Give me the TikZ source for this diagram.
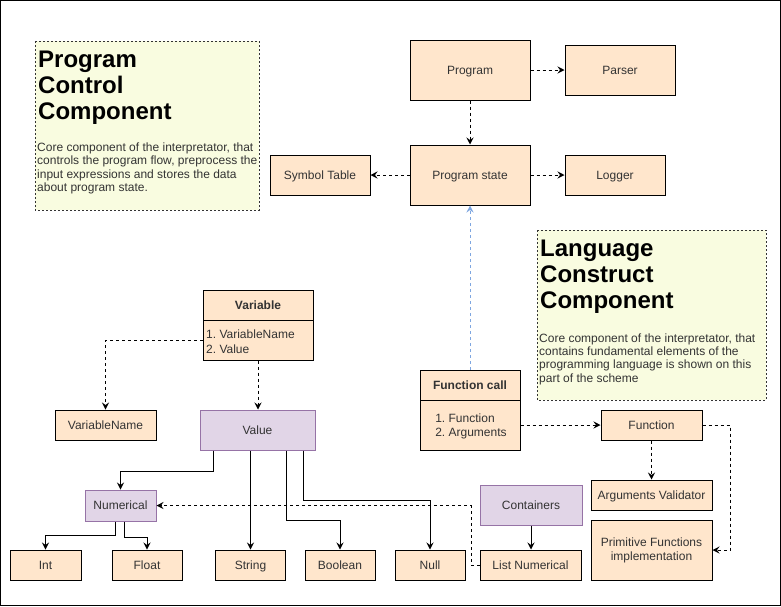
\documentclass[tikz,border=0pt]{standalone}
\usepackage{fontspec}
\setmainfont{Liberation Sans}
\usetikzlibrary{arrows.meta,calc}
\definecolor{boxfill}{HTML}{FFE6CC}
\definecolor{purfill}{HTML}{E1D5E7}
\definecolor{purline}{HTML}{9673A6}
\definecolor{notefill}{HTML}{F9FCE0}
\definecolor{notetxt}{HTML}{333333}
\definecolor{bluearrow}{HTML}{7EA6E0}
\frenchspacing
\begin{document}
\begin{tikzpicture}[x=1pt,y=-1pt,
 every node/.style={font=\fontsize{12}{14.5}\selectfont, text=notetxt},
 obox/.style={draw=black, fill=boxfill, line width=1pt, inner sep=0pt, text height=10.5pt, text depth=2pt},
 pbox/.style={draw=purline, fill=purfill, line width=1pt, inner sep=0pt, text height=10.5pt, text depth=2pt},
 notebox/.style={draw=notetxt, fill=notefill, dash pattern=on 2pt off 2pt, line width=1pt},
 tip/.style={-{Stealth[length=7pt,width=7pt,inset=2.5pt]}},
 dashline/.style={dash pattern=on 3pt off 3pt, line width=1pt, tip},
 solidline/.style={line width=1pt, tip},
 ttl/.style={anchor=base west, inner sep=0pt, font=\fontsize{24}{26}\selectfont\bfseries, text=black},
 bodyt/.style={anchor=base west, inner sep=0pt, font=\fontsize{12}{13.5}\selectfont, text=notetxt}
]
\useasboundingbox (0,0) rectangle (781,606);
\draw[line width=1pt] (0.5,0.5) rectangle (780.5,605.5);

% notes
\draw[notebox] (35,41) rectangle (259,210);
\node[ttl] (pct1) at (38,67) {Program};
\node[ttl] (pct2) at (38,93) {Control};
\node[ttl] (pct3) at (38,119) {Component};
\node[bodyt] (pcb1) at (37,151) {Core component of the interpretator, that};
\node[bodyt] (pcb2) at (37,164.5) {controls the program flow, preprocess the};
\node[bodyt] (pcb3) at (37,178) {input expressions and stores the data};
\node[bodyt] (pcb4) at (37,191.5) {about program state.};

\draw[notebox] (537,230) rectangle (766,400);
\node[ttl] (lct1) at (540,256) {Language};
\node[ttl] (lct2) at (540,282) {Construct};
\node[ttl] (lct3) at (540,308) {Component};
\node[bodyt] (lcb1) at (539,342) {Core component of the interpretator, that};
\node[bodyt] (lcb2) at (539,355.3) {contains fundamental elements of the};
\node[bodyt] (lcb3) at (539,368.6) {programming language is shown on this};
\node[bodyt] (lcb4) at (539,382) {part of the scheme};

% boxes
\node[obox, minimum width=120, minimum height=60] (program) at (470,70) {Program};
\node[obox, minimum width=110, minimum height=50] (parser) at (620,70) {Parser};
\node[obox, minimum width=120, minimum height=60] (state) at (470,175) {Program state};
\node[obox, minimum width=100, minimum height=40] (symtab) at (320,175) {Symbol Table};
\node[obox, minimum width=100, minimum height=40] (logger) at (615,175) {Logger};

\node[obox, minimum width=100, minimum height=30, font=\fontsize{12}{14.5}\selectfont\bfseries] (fcallh) at (470,385) {Function call};
\node[obox, minimum width=100, minimum height=50] (fcallb) at (470,425) {};
\node[align=left, inner sep=0pt] (fcallt) at (471,426.5) {1. Function\\2. Arguments};

\node[obox, minimum width=101, minimum height=30] (func) at (651.5,425) {Function};
\node[obox, minimum width=121, minimum height=30] (argval) at (651.5,495) {Arguments Validator};
\node[draw=black, fill=boxfill, line width=1pt, inner sep=0pt, minimum width=121, minimum height=60, align=center, font=\fontsize{12}{14}\selectfont] (prim) at (651.5,550) {Primitive Functions\\implementation};

\node[pbox, minimum width=102, minimum height=40] (containers) at (531,505) {Containers};
\node[obox, minimum width=101, minimum height=30] (listnum) at (530.5,565) {List Numerical};
\node[obox, minimum width=70, minimum height=30] (null) at (430,565) {Null};
\node[obox, minimum width=70, minimum height=30] (boolean) at (340,565) {Boolean};
\node[obox, minimum width=70, minimum height=30] (string) at (250.5,565) {String};
\node[obox, minimum width=70, minimum height=30] (float) at (147,565) {Float};
\node[obox, minimum width=71, minimum height=30] (int) at (45.5,565) {Int};
\node[pbox, minimum width=71, minimum height=31] (numerical) at (120.5,505.5) {Numerical};
\node[pbox, minimum width=115, minimum height=40] (value) at (257.5,430) {Value};
\node[obox, minimum width=101, minimum height=30] (varname) at (105.5,425) {VariableName};

\node[obox, minimum width=110, minimum height=30, font=\fontsize{12}{14.5}\selectfont\bfseries] (varh) at (258,305) {Variable};
\node[obox, minimum width=110, minimum height=40] (varb) at (258,340) {};
\node[align=left, inner sep=0pt, anchor=west] (vart) at (206,341.5) {1. VariableName\\2. Value};

% connectors
\draw[dashline] (program.east) -- (parser.west);
\draw[dashline] (program.south) -- (state.north);
\draw[dashline] (state.west) -- (symtab.east);
\draw[dashline] (state.east) -- (logger.west);
\draw[dashline, draw=bluearrow] (fcallh.north) -- (state.south);
\draw[dashline] (fcallb.east) -- (func.west);
\coordinate (c1) at (730,550);
\draw[dashline] (func.east) -| (c1) -- (prim.east);
\draw[dashline] (func.south) -- (argval.north);
\draw[solidline] (containers.south) -- (containers.south |- listnum.north);
\coordinate (c2) at (471,505.5);
\draw[dashline] (listnum.west) -| (c2) -- (numerical.east);
\draw[dashline] (varb.west) -| (varname.north);
\draw[dashline] (varb.south) -- (varb.south |- value.north);

\draw[solidline] ($(value.south west)+(14,0)$) -- ++(0,21) -| (numerical.north);
\draw[solidline] (string.north |- value.south) -- (string.north);
\draw[solidline] ($(value.south west)+(87,0)$) -- ++(0,70) -| (boolean.north);
\draw[solidline] ($(value.south west)+(104,0)$) -- ++(0,50) -| (null.north);
\draw[solidline] ($(numerical.south west)+(31,0)$) -- ++(0,14) -| (int.north);
\draw[solidline] ($(numerical.south west)+(40,0)$) -- ++(0,16) -| (float.north);
\end{tikzpicture}
\end{document}
